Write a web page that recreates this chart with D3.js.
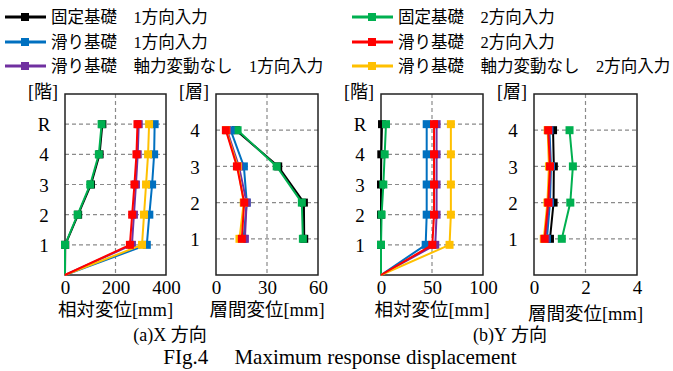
<!DOCTYPE html>
<html><head><meta charset="utf-8">
<script src="https://cdn.jsdelivr.net/npm/d3@7"></script>
<style>body{margin:0;background:#fff}svg{display:block}</style>
</head><body>
<svg id="c" width="673" height="371"></svg>
<script>
// ---- data ----
const seriesNames = ["固定基礎\u30001方向入力","滑り基礎\u30001方向入力","滑り基礎\u3000軸力変動なし\u30001方向入力",
                     "固定基礎\u30002方向入力","滑り基礎\u30002方向入力","滑り基礎\u3000軸力変動なし\u30002方向入力"];
const seriesColors = ["#000000","#0070c0","#7030a0","#00b050","#ff0000","#ffc000"];
const drawOrder = [0,3,1,2,5,4];
const floorLabels = ["1","2","3","4","R"];
const storyLabels = ["1","2","3","4"];
// relative displacement X [mm], floors 1..R
const relX = [
  [1,52,103,137,148],
  [324,334,345,353,355],
  [265,273,281,288,292],
  [0,50,100,134,145],
  [257,266,275,283,287],
  [305,313,321,329,333]
];
// interstory displacement X [mm], stories 1..4
const driftX = [
  [51.9,51.7,36.6,11.8],
  [16.2,18.1,16.4,8.6],
  [17.0,18.0,13.5,6.5],
  [51.1,50.5,35.7,12.7],
  [15.2,16.6,12.3,5.8],
  [13.8,16.3,12.8,6.0]
];
// relative displacement Y [mm]
const relY = [
  [0,0,0,0.3,1.0],
  [43.8,44.8,44.8,44.8,44.8],
  [53.2,54.5,54.5,54.5,54.5],
  [0,0.6,2.3,3.6,4.9],
  [50.3,52,52,52,52],
  [67.2,68.5,68.5,68.5,68.5]
];
// interstory displacement Y [mm]
const driftY = [
  [0.62,0.76,0.77,0.74],
  [0.50,0.62,0.66,0.60],
  [0.45,0.58,0.63,0.57],
  [1.08,1.41,1.51,1.38],
  [0.41,0.55,0.62,0.55],
  [0.38,0.52,0.58,0.53]
];
const xTicks1 = [0,200,400], xTicks2 = [0,30,60], xTicks3 = [0,50,100], xTicks4 = [0,2,4];

const SERIF = "Liberation Serif, Times New Roman, Tinos, serif";
const CJK = "Noto Sans CJK JP, sans-serif";
const svg = d3.select("#c");

// mixed-script text: Latin runs in serif, CJK runs in gothic
function mixedText(sel, str){
  const runs = [];
  const re = /[\u3000-\u9fff\uff00-\uffef]+|[^\u3000-\u9fff\uff00-\uffef]+/g;
  let m;
  while((m = re.exec(str))) runs.push(m[0]);
  runs.forEach(r=>{
    const cjk = /[\u3000-\u9fff\uff00-\uffef]/.test(r);
    sel.append("tspan").style("font-family", cjk ? CJK : SERIF).text(r);
  });
  return sel;
}

// ---- legend ----
const legX = [5,352], legY = [17,42,66];
seriesNames.forEach((n,i)=>{
  const col = Math.floor(i/3), row = i%3;
  const g = svg.append("g").attr("transform",`translate(${legX[col]},${legY[row]})`);
  g.append("line").attr("x1",0).attr("x2",41).attr("y1",0).attr("y2",0)
    .attr("stroke",seriesColors[i]).attr("stroke-width",3);
  g.append("rect").attr("x",16).attr("y",-4).attr("width",8).attr("height",8).attr("fill",seriesColors[i]);
  mixedText(g.append("text").attr("x",46).attr("y",6).attr("font-size",16.5), n);
});

// ---- panels ----
function panel(opt){
  const x = d3.scaleLinear().domain(opt.xdom).range([opt.x0,opt.x1]);
  const y = d3.scaleLinear().domain([0,opt.ymax]).range([opt.yb,opt.yt]);
  const g = svg.append("g");
  g.append("g").selectAll("line").data(d3.range(1,opt.ymax)).join("line")
    .attr("x1",opt.x0).attr("x2",opt.x1).attr("y1",d=>y(d)).attr("y2",d=>y(d))
    .attr("stroke","#8a8a8a").attr("stroke-width",1.2).attr("stroke-dasharray","4,3");
  g.append("g").selectAll("line").data(opt.xticks.slice(1,-1)).join("line")
    .attr("x1",d=>x(d)).attr("x2",d=>x(d)).attr("y1",opt.yt).attr("y2",opt.yb)
    .attr("stroke","#8a8a8a").attr("stroke-width",1.2).attr("stroke-dasharray","4,3");
  g.append("rect").attr("x",opt.x0).attr("y",opt.yt).attr("width",opt.x1-opt.x0).attr("height",opt.yb-opt.yt)
    .attr("fill","none").attr("stroke","#222").attr("stroke-width",1.5);
  const xa = d3.axisBottom(x).tickValues(opt.xticks).tickFormat(d3.format("d")).tickSize(0).tickPadding(0);
  const xg = g.append("g").attr("transform",`translate(0,${opt.yb})`).call(xa);
  xg.select(".domain").remove();
  xg.selectAll("text").style("font-family",SERIF).attr("font-size",19).attr("fill","#000")
    .attr("dy",null).attr("y",19);
  const ya = d3.axisLeft(y).tickValues(d3.range(1,opt.labels.length+1))
    .tickFormat(d=>opt.labels[d-1]).tickSize(0).tickPadding(0);
  const yg = g.append("g").attr("transform",`translate(${opt.x0-21},0)`).call(ya);
  yg.select(".domain").remove();
  yg.selectAll("text").style("font-family",SERIF).attr("font-size",19).attr("fill","#000")
    .attr("text-anchor","middle").attr("x",0).attr("dy","0.35em");
  mixedText(g.append("text").attr("x",opt.x0-22).attr("y",opt.yt+4).attr("text-anchor","middle")
    .attr("font-size",18), opt.ytitle);
  mixedText(g.append("text").attr("x",(opt.x0+opt.x1)/2).attr("y",opt.xty).attr("text-anchor","middle")
    .attr("font-size",18.5), opt.xtitle);
  const line = d3.line().x(d=>x(d.v)).y(d=>y(d.l));
  drawOrder.forEach(si=>{
    const pts = opt.data[si].map((v,k)=>({v:v,l:k+1}));
    const linePts = opt.origin ? [{v:0,l:0}].concat(pts) : pts;
    g.append("path").datum(linePts).attr("d",line).attr("fill","none")
      .attr("stroke",seriesColors[si]).attr("stroke-width",2);
    g.append("g").selectAll("rect").data(pts).join("rect")
      .attr("x",d=>x(d.v)-4).attr("y",d=>y(d.l)-4).attr("width",8).attr("height",8)
      .attr("fill",seriesColors[si]);
  });
}

panel({x0:65,x1:166,yt:94,yb:275,xdom:[0,400],ymax:6,xticks:xTicks1,labels:floorLabels,
  data:relX,origin:true,ytitle:"[階]",xtitle:"相対変位[mm]",xty:316});
panel({x0:216,x1:318,yt:94,yb:275,xdom:[0,60],ymax:5,xticks:xTicks2,labels:storyLabels,
  data:driftX,origin:false,ytitle:"[層]",xtitle:"層間変位[mm]",xty:316});
panel({x0:381,x1:483,yt:94,yb:275,xdom:[0,100],ymax:6,xticks:xTicks3,labels:floorLabels,
  data:relY,origin:true,ytitle:"[階]",xtitle:"相対変位[mm]",xty:316});
panel({x0:534,x1:637,yt:94,yb:275,xdom:[0,4],ymax:5,xticks:xTicks4,labels:storyLabels,
  data:driftY,origin:false,ytitle:"[層]",xtitle:"層間変位[mm]",xty:320});

// captions
mixedText(svg.append("text").attr("x",170).attr("y",341).attr("text-anchor","middle").attr("font-size",18), "(a)X 方向");
mixedText(svg.append("text").attr("x",510).attr("y",341).attr("text-anchor","middle").attr("font-size",18), "(b)Y 方向");
svg.append("text").attr("x",340).attr("y",364).attr("text-anchor","middle")
  .style("font-family",SERIF).style("white-space","pre").attr("font-size",21)
  .text("FIg.4\u2003 Maximum response displacement");
</script>
</body></html>
